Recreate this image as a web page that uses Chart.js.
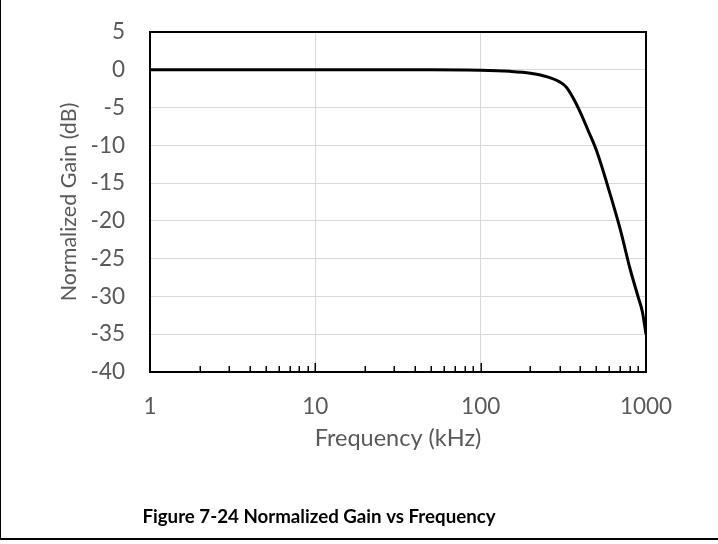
<!DOCTYPE html>
<html><head><meta charset="utf-8">
<script src="https://cdn.jsdelivr.net/npm/chart.js@4.4.1/dist/chart.umd.min.js"></script>
<style>html,body{margin:0;padding:0;background:#fff}#wrap{width:718px;height:544px;position:relative}</style>
</head><body><div id="wrap"><canvas id="c" width="718" height="544"></canvas></div>
<script>
// ---- data ----
const freqKHz = [1, 10, 50, 100, 150, 200, 250, 300, 330, 360, 400, 450, 500, 600, 700, 800, 900, 950, 1000];
const gainDb  = [0, 0, 0, -0.05, -0.2, -0.45, -0.9, -1.6, -2.3, -3.6, -5.6, -8.2, -10.6, -16.1, -21.2, -26.3, -30.2, -32, -35];
const xTickValues = [1, 10, 100, 1000];
const xGridValues = [10, 100];
const minorMultipliers = [2, 3, 4, 5, 6, 7, 8, 9];
const yMin = -40, yMax = 5, yStep = 5;
const xTitle = 'Frequency (kHz)';
const yTitle = 'Normalized Gain (dB)';
const caption = 'Figure 7-24 Normalized Gain vs Frequency';

const FONT = 'Lato, "Open Sans", sans-serif';
const GREY = '#595959';

const framePlugin = {
  id: 'framePlugin',
  beforeDraw(chart) {
    const ctx = chart.ctx;
    ctx.save();
    ctx.fillStyle = '#fff';
    ctx.fillRect(0, 0, chart.width, chart.height);
    ctx.fillStyle = '#000';
    ctx.fillRect(0, 0, 1, 540);
    ctx.fillRect(0, 538, chart.width, 2);
    ctx.restore();
  },
  afterDraw(chart) {
    const ctx = chart.ctx;
    const a = chart.chartArea;
    const xs = chart.scales.x;
    ctx.save();
    ctx.strokeStyle = '#000';
    ctx.lineWidth = 2;
    ctx.strokeRect(a.left, a.top, a.right - a.left, a.bottom - a.top);
    ctx.lineWidth = 1.5;
    ctx.beginPath();
    for (let d = 0; d < xTickValues.length - 1; d++) {
      const base = xTickValues[d];
      minorMultipliers.forEach(m => {
        const px = Math.round(xs.getPixelForValue(base * m)) + 0.25;
        ctx.moveTo(px, a.bottom);
        ctx.lineTo(px, a.bottom - 6);
      });
    }
    xGridValues.forEach(v => {
      const px = Math.round(xs.getPixelForValue(v)) + 0.25;
      ctx.moveTo(px, a.bottom);
      ctx.lineTo(px, a.bottom - 9);
    });
    ctx.stroke();
    ctx.restore();
  }
};

new Chart(document.getElementById('c'), {
  type: 'line',
  data: {
    datasets: [{
      data: freqKHz.map((f, i) => ({x: f, y: gainDb[i]})),
      borderColor: '#000',
      borderWidth: 3,
      pointRadius: 0,
      fill: false,
      cubicInterpolationMode: 'monotone'
    }]
  },
  options: {
    responsive: false,
    devicePixelRatio: 1,
    animation: false,
    layout: {padding: {left: -8, top: 32, right: 72, bottom: 15}},
    plugins: {
      legend: {display: false},
      tooltip: {enabled: false},
      title: {
        display: true,
        text: caption,
        position: 'bottom',
        color: '#000',
        font: {family: FONT, size: 18.7, weight: 'bold', lineHeight: 24 / 18.7},
        padding: 0
      }
    },
    scales: {
      x: {
        type: 'logarithmic',
        min: xTickValues[0],
        max: xTickValues[xTickValues.length - 1],
        afterBuildTicks(s) { s.ticks = xTickValues.map(v => ({value: v})); },
        afterFit(s) { s.height = 133; },
        ticks: {
          color: GREY,
          font: {family: FONT, size: 22.5},
          padding: 21,
          maxRotation: 0,
          autoSkip: false,
          callback: v => String(v)
        },
        grid: {
          drawTicks: false,
          lineWidth: 1,
          color: ctx => (ctx.tick && xGridValues.includes(ctx.tick.value)) ? '#d9d9d9' : 'rgba(0,0,0,0)'
        },
        border: {display: false},
        title: {
          display: true,
          text: xTitle,
          color: GREY,
          font: {family: FONT, size: 23.5, lineHeight: 1.2},
          padding: {top: 0, bottom: 52}
        }
      },
      y: {
        type: 'linear',
        min: yMin,
        max: yMax,
        afterFit(s) { s.width = 158; },
        ticks: {
          stepSize: yStep,
          color: GREY,
          font: {family: FONT, size: 22.5},
          padding: 0
        },
        grid: {drawTicks: true, tickLength: 25, tickColor: 'rgba(0,0,0,0)', color: '#d9d9d9', lineWidth: 1},
        border: {display: false},
        title: {
          display: true,
          text: yTitle,
          color: GREY,
          font: {family: FONT, size: 21.5, lineHeight: 1.2},
          padding: {top: 64, bottom: 0}
        }
      }
    }
  },
  plugins: [framePlugin]
});
</script>
</body></html>
